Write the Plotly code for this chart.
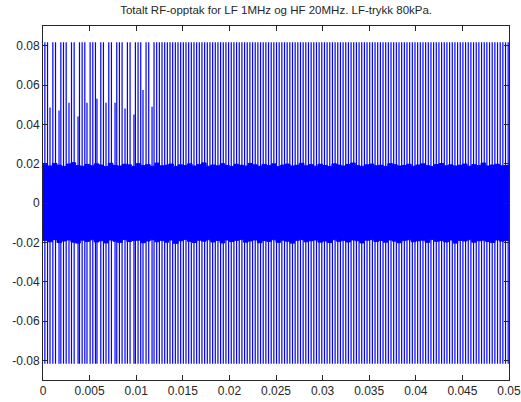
import numpy as np
import plotly.graph_objects as go

# --- recorded signal, summarised as pulse train + dense HF band ---
# pulse train: repetition grid (s) and peak amplitudes
pulse_t0 = 0.0002
pulse_period = 0.0002857
pulse_count = 175
pulse_peak = 0.0817          # clipped peak reached by most pulses
pulse_trough = -0.0817

# pulses that peak lower than the clipped level: time (s) -> peak value
short_pulse_time = [0.00075, 0.00172, 0.00279, 0.00376, 0.00472, 0.00579,
                    0.00676, 0.00773, 0.00880, 0.00976, 0.01073, 0.01170]
short_pulse_peak = [0.0485, 0.0470, 0.0510, 0.0440, 0.0510, 0.0530,
                    0.0510, 0.0510, 0.0480, 0.0450, 0.0575, 0.0490]

# envelope of the continuous HF band, sampled every 0.5 ms
band_time_step = 0.0005
band_upper = [0.0195, 0.0188, 0.0201, 0.0192, 0.0186, 0.0198, 0.0205, 0.0190, 0.0187, 0.0196,
              0.0189, 0.0199, 0.0193, 0.0185, 0.0202, 0.0191, 0.0188, 0.0197, 0.0194, 0.0186,
              0.0200, 0.0190, 0.0195, 0.0187, 0.0203, 0.0189, 0.0192, 0.0198, 0.0186, 0.0194,
              0.0190, 0.0199, 0.0188, 0.0195, 0.0204, 0.0187, 0.0193, 0.0189, 0.0200, 0.0191,
              0.0186, 0.0197, 0.0192, 0.0188, 0.0201, 0.0194, 0.0187, 0.0196, 0.0190, 0.0199,
              0.0185, 0.0193, 0.0198, 0.0188, 0.0192, 0.0202, 0.0189, 0.0195, 0.0187, 0.0197,
              0.0191, 0.0186, 0.0199, 0.0193, 0.0188, 0.0196, 0.0203, 0.0190, 0.0187, 0.0194,
              0.0198, 0.0189, 0.0192, 0.0186, 0.0200, 0.0195, 0.0188, 0.0191, 0.0197, 0.0187,
              0.0193, 0.0199, 0.0190, 0.0186, 0.0196, 0.0201, 0.0189, 0.0194, 0.0188, 0.0192,
              0.0198, 0.0187, 0.0195, 0.0190, 0.0203, 0.0188, 0.0193, 0.0197, 0.0189, 0.0191, 0.0194]
band_lower = [-0.0190, -0.0197, -0.0186, -0.0201, -0.0193, -0.0188, -0.0199, -0.0204, -0.0189, -0.0195,
              -0.0187, -0.0198, -0.0192, -0.0203, -0.0188, -0.0194, -0.0200, -0.0186, -0.0196, -0.0191,
              -0.0189, -0.0202, -0.0193, -0.0187, -0.0197, -0.0190, -0.0199, -0.0188, -0.0205, -0.0192,
              -0.0186, -0.0195, -0.0201, -0.0189, -0.0194, -0.0187, -0.0198, -0.0191, -0.0203, -0.0188,
              -0.0196, -0.0190, -0.0186, -0.0199, -0.0193, -0.0188, -0.0202, -0.0191, -0.0195, -0.0187,
              -0.0200, -0.0189, -0.0194, -0.0204, -0.0190, -0.0186, -0.0197, -0.0192, -0.0188, -0.0199,
              -0.0193, -0.0201, -0.0187, -0.0195, -0.0190, -0.0198, -0.0188, -0.0192, -0.0203, -0.0189,
              -0.0186, -0.0196, -0.0191, -0.0199, -0.0188, -0.0194, -0.0202, -0.0190, -0.0187, -0.0197,
              -0.0192, -0.0189, -0.0200, -0.0186, -0.0195, -0.0191, -0.0198, -0.0188, -0.0204, -0.0190,
              -0.0193, -0.0187, -0.0199, -0.0192, -0.0189, -0.0196, -0.0201, -0.0188, -0.0194, -0.0190, -0.0195]

x_ticks = [0, 0.005, 0.01, 0.015, 0.02, 0.025, 0.03, 0.035, 0.04, 0.045, 0.05]
x_tick_text = ["0", "0.005", "0.01", "0.015", "0.02", "0.025", "0.03", "0.035", "0.04", "0.045", "0.05"]
y_ticks = [-0.08, -0.06, -0.04, -0.02, 0, 0.02, 0.04, 0.06, 0.08]
y_tick_text = ["-0.08", "-0.06", "-0.04", "-0.02", "0", "0.02", "0.04", "0.06", "0.08"]

title_text = "Totalt RF-opptak for LF 1MHz og HF 20MHz. LF-trykk 80kPa."
blue = "#0000ff"

# pulse times and their peaks
pulse_time = pulse_t0 + pulse_period * np.arange(pulse_count)
peaks = np.full(pulse_count, pulse_peak)
for t, p in zip(short_pulse_time, short_pulse_peak):
    k = int(np.argmin(np.abs(pulse_time - t)))
    peaks[k] = p
    pulse_time[k] = t

seg_x, seg_y = [], []
for t, p in zip(pulse_time, peaks):
    seg_x += [t, t, None]
    seg_y += [pulse_trough, p, None]

band_time = band_time_step * np.arange(len(band_upper))

fig = go.Figure()
fig.add_trace(go.Scatter(x=band_time, y=band_lower, mode="lines", line=dict(color=blue, width=1, shape="hv"),
                         hoverinfo="skip"))
fig.add_trace(go.Scatter(x=band_time, y=band_upper, mode="lines", line=dict(color=blue, width=1, shape="hv"),
                         fill="tonexty", fillcolor=blue, hoverinfo="skip"))
fig.add_trace(go.Scatter(x=seg_x, y=seg_y, mode="lines", line=dict(color=blue, width=1.2),
                         hoverinfo="skip"))

axis_common = dict(showgrid=False, zeroline=False, showline=True, linecolor="#262626", linewidth=1,
                   mirror="allticks", ticks="inside", ticklen=5, tickcolor="#262626", automargin=False,
                   ticklabeloverflow="allow",
                   tickfont=dict(family="Liberation Sans, Arial, sans-serif", size=12, color="#262626"))

fig.update_layout(
    width=521, height=402,
    margin=dict(l=43, r=12, t=26, b=22),
    paper_bgcolor="white", plot_bgcolor="white",
    showlegend=False,
    title=dict(text=title_text, x=0.53, xanchor="center", y=0.985, yanchor="top",
               font=dict(family="Liberation Sans, Arial, sans-serif", size=11.5, color="#262626")),
    xaxis=dict(range=[0, 0.05], tickvals=x_ticks, ticktext=x_tick_text, ticklabelstandoff=0, **axis_common),
    yaxis=dict(range=[-0.09, 0.09], tickvals=y_ticks, ticktext=y_tick_text, **axis_common),
)

fig.write_html("out.html")
